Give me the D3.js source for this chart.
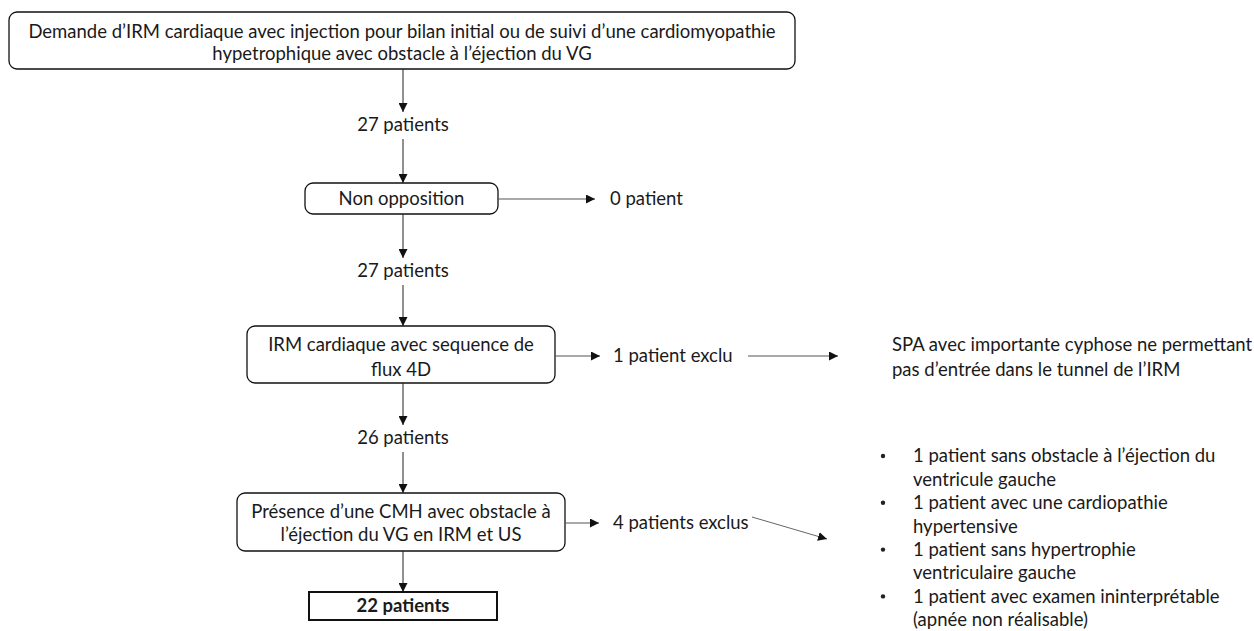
<!DOCTYPE html>
<html><head><meta charset="utf-8">
<script src="https://cdn.jsdelivr.net/npm/d3@7"></script>
<style>body{margin:0;background:#fff}svg{display:block}text{font-family:Lato,"Open Sans",sans-serif;fill:#1a1a1a}</style>
</head><body><svg id="c" width="1254" height="631"></svg>
<script>
// ---- data ----
const stepLabels = [
  ["Demande d\u2019IRM cardiaque avec injection pour bilan initial ou de suivi d\u2019une cardiomyopathie","hypetrophique avec obstacle \u00e0 l\u2019\u00e9jection du VG"],
  ["Non opposition"],
  ["IRM cardiaque avec sequence de","flux 4D"],
  ["Pr\u00e9sence d\u2019une CMH avec obstacle \u00e0","l\u2019\u00e9jection du VG en IRM et US"]
];
const flowCounts = ["27 patients","27 patients","26 patients"];
const exclusionCounts = [null,"0 patient","1 patient exclu","4 patients exclus"];
const finalLabel = "22 patients";
const reasonSPA = ["SPA avec importante cyphose ne permettant","pas d\u2019entr\u00e9e dans le tunnel de l\u2019IRM"];
const reasonBullets = [
  ["1 patient sans obstacle \u00e0 l\u2019\u00e9jection du","ventricule gauche"],
  ["1 patient avec une cardiopathie","hypertensive"],
  ["1 patient sans hypertrophie","ventriculaire gauche"],
  ["1 patient avec examen ininterpr\u00e9table","(apn\u00e9e non r\u00e9alisable)"]
];

// ---- layout ----
const svg = d3.select("#c");
const defs = svg.append("defs");
defs.append("marker").attr("id","ar").attr("viewBox","0 0 10 10").attr("refX",10).attr("refY",5)
  .attr("markerWidth",9).attr("markerHeight",9).attr("markerUnits","userSpaceOnUse").attr("orient","auto")
  .append("path").attr("d","M0,0L10,5L0,10z").attr("fill","#111");

const CX = 403;
const boxes = [
  {x0:9,x1:795,y0:12,y1:69,ty:42.3,lh:21.5},
  {x0:305,x1:498,y0:183,y1:214,ty:198.5,lh:24.5},
  {x0:247,x1:555,y0:326,y1:383,ty:357.5,lh:25},
  {x0:237,x1:565,y0:493,y1:551,ty:523,lh:23}
];
const countY = [125,271,438];
const FS = 18.5, LH = 24.5;

function line(x1,y1,x2,y2,arrow,color){
  const l = svg.append("line").attr("x1",x1).attr("y1",y1).attr("x2",x2).attr("y2",y2)
    .attr("stroke",color||"#222").attr("stroke-width",1);
  if(arrow) l.attr("marker-end","url(#ar)");
}
function multiText(lines,cx,cy,anchor,lh,opts){
  const t = svg.append("text").attr("text-anchor",anchor).attr("font-size",(opts&&opts.fs)||FS);
  if(opts&&opts.bold) t.attr("font-weight","bold");
  const n = lines.length;
  lines.forEach((s,i)=>{
    t.append("tspan").attr("x",cx).attr("y",cy+(i-(n-1)/2)*lh).attr("dy","0.35em").text(s);
  });
  return t;
}

boxes.forEach((b,i)=>{
  svg.append("rect").attr("x",b.x0).attr("y",b.y0).attr("width",b.x1-b.x0).attr("height",b.y1-b.y0)
    .attr("rx",8).attr("fill","#fff").attr("stroke","#111").attr("stroke-width",1.3);
  multiText(stepLabels[i],(b.x0+b.x1)/2,b.ty,"middle",b.lh);
});

// vertical flow
for(let i=0;i<3;i++){
  const b = boxes[i], nb = boxes[i+1];
  line(CX,b.y1,CX,countY[i]-13,true);
  multiText([flowCounts[i]],CX,countY[i],"middle",LH);
  line(CX,countY[i]+14,CX,nb.y0,true);
}
// final
const fb = {x0:309,x1:497,y0:592,y1:620};
line(CX,boxes[3].y1,CX,fb.y0,true);
svg.append("rect").attr("x",fb.x0).attr("y",fb.y0).attr("width",fb.x1-fb.x0).attr("height",fb.y1-fb.y0)
  .attr("fill","#fff").attr("stroke","#111").attr("stroke-width",2);
multiText([finalLabel],(fb.x0+fb.x1)/2,(fb.y0+fb.y1)/2,"middle",LH,{bold:true});

// exclusions
const exArrowEnd = [null,595,600,599];
const exTextX = [null,610,613,613];
const exY = [null,199,356,523];
for(let i=1;i<4;i++){
  const b = boxes[i], y=exY[i];
  line(b.x1,y,exArrowEnd[i],y,true,"#555");
  multiText([exclusionCounts[i]],exTextX[i],y,"start",LH);
}
line(748,356,838,356,true,"#555");
multiText(reasonSPA,892,357.5,"start",25);
line(752,517,827,539,true,"#666");

// bullets
const bulletTop = 456, lineH = 23.4;
reasonBullets.forEach((r,i)=>{
  const y = bulletTop + i*2*lineH;
  svg.append("circle").attr("cx",883).attr("cy",y).attr("r",2.2).attr("fill","#222");
  r.forEach((s,j)=>{
    svg.append("text").attr("x",913).attr("y",y+j*lineH).attr("dy","0.35em").attr("font-size",FS).text(s);
  });
});
</script></body></html>
